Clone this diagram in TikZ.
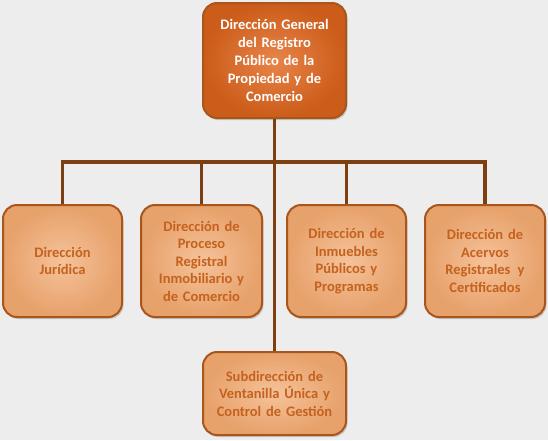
\documentclass[tikz,border=0pt]{standalone}
\usepackage{fontspec}
\setmainfont{Carlito}
\usetikzlibrary{shadows}
\definecolor{fondo}{HTML}{EDEDED}
\definecolor{linea}{HTML}{7B3F12}
\definecolor{naranja}{HTML}{E2661C}
\definecolor{naranjaclaro}{HTML}{F2AE78}
\definecolor{borde}{HTML}{A8561C}
\definecolor{texto}{HTML}{C4621E}

\begin{document}
\begin{tikzpicture}[x=1pt,y=-1pt,
  top node/.style={rectangle,rounded corners=14pt,draw=borde,line width=2pt,
    inner color=naranja!80!white,outer color=naranja!90!black,
    drop shadow={shadow xshift=1.5pt,shadow yshift=-2pt,opacity=0.35},
    text=white,font=\fontsize{14.5}{18}\selectfont\bfseries,align=center},
  main node/.style={rectangle,rounded corners=14pt,draw=borde,line width=2pt,
    inner color=naranjaclaro!75!white,outer color=naranjaclaro!85!borde,
    drop shadow={shadow xshift=1.5pt,shadow yshift=-2pt,opacity=0.35},
    text=texto,font=\fontsize{14.5}{17.5}\selectfont\bfseries,align=center},
  conn/.style={draw=linea,line width=3.5pt}]

\fill[fondo] (0,0) rectangle (548,440);

\node[top node,minimum width=143pt,minimum height=115pt,text width=130pt] (dg) at (274.5,60.5)
  {Dirección General\\del Registro\\Público de la\\Propiedad y de\\Comercio};

\node[main node,minimum width=119pt,minimum height=112pt,text width=108pt] (dj) at (62.5,261)
  {Dirección\\Jurídica};
\node[main node,minimum width=121pt,minimum height=112pt,text width=112pt] (dpr) at (201.5,261)
  {Dirección de\\Proceso\\Registral\\Inmobiliario y\\de Comercio};
\node[main node,minimum width=119pt,minimum height=112pt,text width=108pt] (dip) at (346.5,261)
  {Dirección de\\Inmuebles\\Públicos y\\Programas};
\node[main node,minimum width=120pt,minimum height=112pt,text width=110pt] (dai) at (485,261)
  {Dirección de\\Acervos\\Registrales\, y\\Certificados};

\node[main node,minimum width=143pt,minimum height=83pt,text width=134pt] (svu) at (274.5,393.5)
  {Subdirección de\\Ventanilla Única y\\Control de Gestión};

\coordinate (bus) at (274.5,162);

\path[conn] (dj.north) |- (bus) -| (dai.north);
\path[conn] (dpr.north) |- (bus);
\path[conn] (dip.north) |- (bus);
\path[conn] (dg.south) -- (svu.north);

\end{tikzpicture}
\end{document}
